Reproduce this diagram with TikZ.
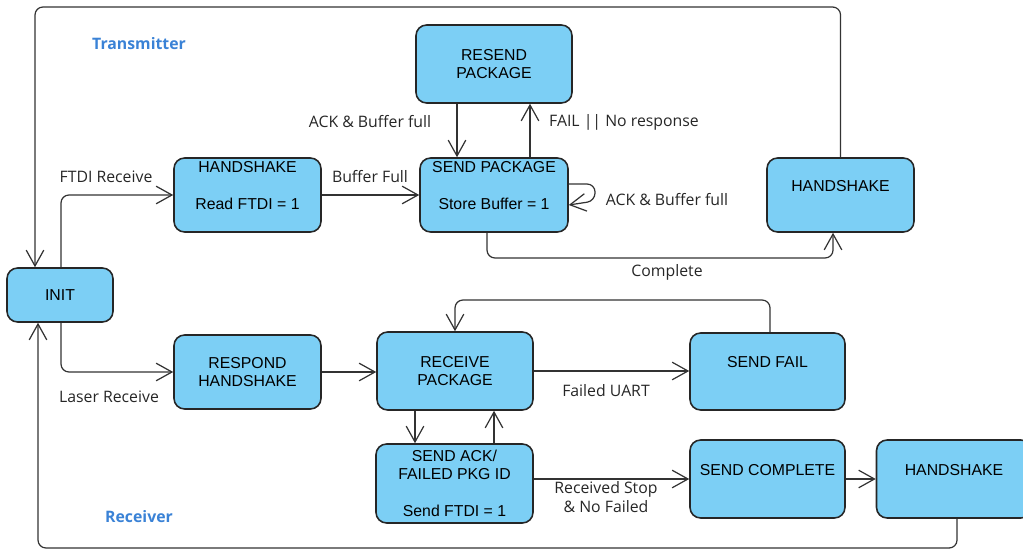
\documentclass[tikz,border=0pt]{standalone}
\usepackage{fontspec}
\setmainfont{Open Sans}
\newfontfamily\statefont{Liberation Sans}
\usetikzlibrary{arrows.meta}
\definecolor{statefill}{RGB}{124,207,245}
\definecolor{partblue}{RGB}{58,130,214}
\tikzset{
	state/.style={draw=black!85, line width=0.9pt, fill=statefill, rounded corners=6pt, align=center, inner sep=0pt, font=\statefont\fontsize{9}{10.5}\selectfont},
	trans/.style={draw=black!80, line width=0.7pt, rounded corners=4.5pt, -{Straight Barb[length=9pt,width=10pt]}},
	lbl/.style={font=\fontsize{9}{10.8}\selectfont, text=black!85, align=center},
	part/.style={font=\bfseries\fontsize{9}{11}\selectfont, text=partblue}
}

\begin{document}
\begin{tikzpicture}[x=0.02cm, y=-0.02cm]
			%%%%% START %%%%%
			\useasboundingbox (0, 0) rectangle (1023, 550);
			\clip (0, 0) rectangle (1023, 550);
			
			\node[part] (tx) at (139, 44) {Transmitter};
			\node[part] (rx) at (139, 517) {Receiver};
			
			\node[state, minimum width=2.12cm, minimum height=1.08cm] (init) at (60, 295) {INIT};
			
			\node[state, minimum width=2.94cm, minimum height=1.48cm] (hsA) at (247.5, 195) {HANDSHAKE\\\mbox{}\\Read FTDI = 1\\\mbox{}};
			\node[state, minimum width=2.96cm, minimum height=1.48cm] (send) at (494, 195) {SEND PACKAGE\\\mbox{}\\Store Buffer = 1\\\mbox{}};
			\node[state, minimum width=3.12cm, minimum height=1.56cm] (resend) at (494, 64) {RESEND\\PACKAGE};
			\node[state, minimum width=2.94cm, minimum height=1.48cm] (hsB) at (840.5, 195) {HANDSHAKE\\\mbox{}};
			
			\node[state, minimum width=2.94cm, minimum height=1.48cm] (respond) at (247.5, 372) {RESPOND\\HANDSHAKE};
			\node[state, minimum width=3.12cm, minimum height=1.56cm] (receive) at (455, 371) {RECEIVE\\PACKAGE};
			\node[state, minimum width=3.1cm, minimum height=1.54cm] (fail) at (767.5, 371.5) {SEND FAIL\\\mbox{}};
			\node[state, minimum width=3.14cm, minimum height=1.58cm] (ack) at (454.5, 483.5) {SEND ACK/\\FAILED PKG ID\\\mbox{}\\Send FTDI = 1};
			\node[state, minimum width=3.1cm, minimum height=1.56cm] (complete) at (767.5, 479) {SEND COMPLETE\\\mbox{}};
			\node[state, minimum width=3.1cm, minimum height=1.56cm] (hsC) at (954, 479) {HANDSHAKE\\\mbox{}};
			
			% transmitter side
			\draw[trans] (init.north -| 61,0) |- (hsA.west);
			\draw[trans] (hsA.east) -- (send.west);
			\draw[trans] (resend.south -| 457,0) -- (send.north -| 457,0);
			\draw[trans] (send.north -| 530,0) -- (resend.south -| 530,0);
			\draw[trans] (send.east |- 0,184) -- (595, 184) -- (595, 201) -- (send.east |- 0,205);
			\draw[trans] (send.south -| 487,0) |- (833, 258) -- (hsB.south -| 833,0);
			\draw[trans] (hsB.north) |- (35, 7) -- (init.north -| 35,0);
			
			\node[lbl] (lFtdi) at (106, 177) {FTDI Receive};
			\node[lbl] (lFull) at (370, 177) {Buffer Full};
			\node[lbl] (lAckA) at (370, 122) {ACK \& Buffer full};
			\node[lbl] (lFail) at (624, 122) {FAIL || No response};
			\node[lbl] (lAckB) at (667, 200) {ACK \& Buffer full};
			\node[lbl] (lDone) at (667, 272) {Complete};
			
			% receiver side
			\draw[trans] (init.south -| 61,0) |- (respond.west);
			\draw[trans] (respond.east) -- (receive.west |- respond.east);
			\draw[trans] (receive.east) -- (fail.west |- receive.east);
			\draw[trans] (fail.north -| 770,0) |- (455, 300) -- (receive.north);
			\draw[trans] (receive.south -| 415,0) -- (ack.north -| 415,0);
			\draw[trans] (ack.north -| 494,0) -- (receive.south -| 494,0);
			\draw[trans] (ack.east |- complete.west) -- (complete.west);
			\draw[trans] (complete.east) -- (hsC.west);
			\draw[trans] (hsC.south -| 957,0) |- (38, 548) -- (init.south -| 38,0);
			
			\node[lbl] (lLaser) at (109, 397) {Laser Receive};
			\node[lbl] (lUart) at (606, 391) {Failed UART};
			\node[lbl] (lStop) at (606, 497) {Received Stop\\\& No Failed};
			
			%%%%% END %%%%%
\end{tikzpicture}
\end{document}
